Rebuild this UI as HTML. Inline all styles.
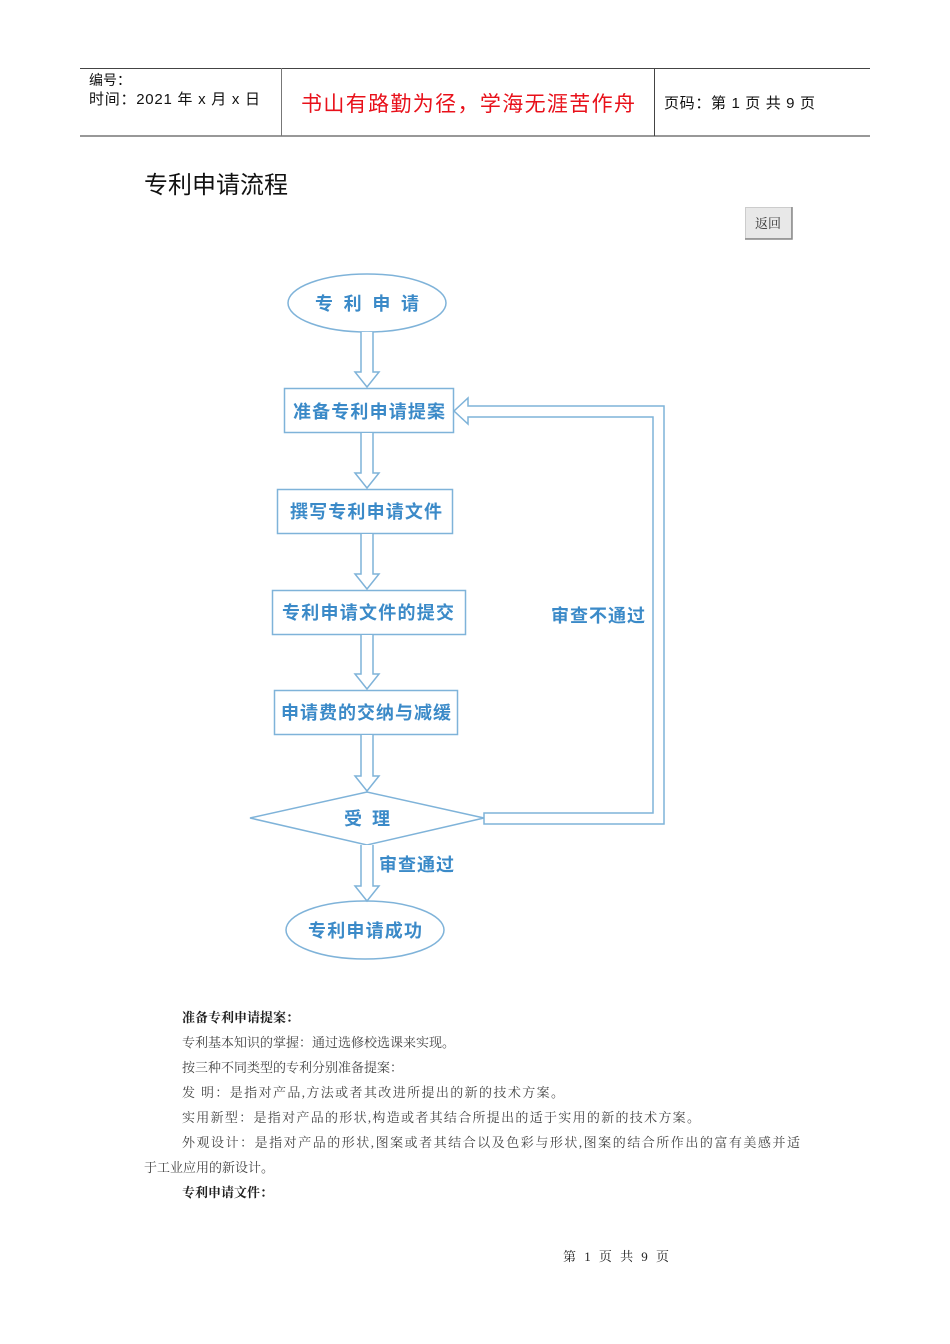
<!DOCTYPE html>
<html><head><meta charset="utf-8"><style>
html,body{margin:0;padding:0;background:#fff;}
svg{display:block;}
.s{font-family:"Liberation Serif","Noto Serif CJK SC",serif;fill:#444;font-size:13px;}
.f{font-family:"Liberation Sans","Noto Sans CJK SC",sans-serif;font-weight:bold;fill:#3b8ac8;}
</style></head><body>
<svg width="950" height="1344" viewBox="0 0 950 1344" xmlns="http://www.w3.org/2000/svg">
<line x1="80" y1="68.5" x2="870" y2="68.5" stroke="#444" stroke-width="1"/>
<line x1="80" y1="136" x2="870" y2="136" stroke="#777" stroke-width="1.5"/>
<line x1="281.5" y1="68" x2="281.5" y2="136" stroke="#777" stroke-width="1"/>
<line x1="654.5" y1="68" x2="654.5" y2="136" stroke="#444" stroke-width="1"/>
<text x="89" y="85" font-family="Liberation Sans,'Noto Sans CJK SC',sans-serif" font-size="14" fill="#111">编号：</text>
<text x="89" y="104" font-family="Liberation Sans,'Noto Sans CJK SC',sans-serif" font-size="15" fill="#111" textLength="171">时间：2021 年 x 月 x 日</text>
<text x="301" y="111" font-family="Liberation Sans,'Noto Sans CJK SC',sans-serif" font-size="21" fill="#e8101a" textLength="334">书山有路勤为径，学海无涯苦作舟</text>
<text x="664" y="108" font-family="Liberation Sans,'Noto Sans CJK SC',sans-serif" font-size="15" fill="#111" textLength="151">页码：第 1 页  共 9 页</text>
<text x="144" y="193" font-family="Liberation Sans,'Noto Sans CJK SC',sans-serif" font-size="24" fill="#111" textLength="144">专利申请流程</text>
<rect x="745.5" y="207.5" width="46" height="31" fill="#e8e8e8" stroke="#ccc"/>
<path d="M792 207V239H745" fill="none" stroke="#888" stroke-width="1.5"/>
<text x="768" y="228" text-anchor="middle" font-family="Liberation Serif,'Noto Serif CJK SC',serif" font-size="13" fill="#333">返回</text>
<g fill="#fff" stroke="#7fb3d9" stroke-width="1.5">
<ellipse cx="367" cy="303" rx="79" ry="29"/>
<rect x="284.5" y="388.5" width="169" height="44"/>
<rect x="277.5" y="489.5" width="175" height="44"/>
<rect x="272.5" y="590.5" width="193" height="44"/>
<rect x="274.5" y="690.5" width="183" height="44"/>
<polygon points="250,818 367,792 484,818 367,845"/>
<ellipse cx="365" cy="930" rx="79" ry="29"/>
<path d="M361 332V372H355L367 387L379 372H373V332"/>
<path d="M361 433V473H355L367 488L379 473H373V433"/>
<path d="M361 534V574H355L367 589L379 574H373V534"/>
<path d="M361 635V674H355L367 689L379 674H373V635"/>
<path d="M361 735V776H355L367 791L379 776H373V735"/>
<path d="M361 845V886H355L367 901L379 886H373V845"/>
<path d="M484 813H653V417H468V424L454 411L468 398V406H664V824H484Z"/>
</g>
<text x="367" y="310" text-anchor="middle" class="f" font-size="18" textLength="104">专 利 申 请</text>
<text x="369" y="418" text-anchor="middle" class="f" font-size="18" textLength="152">准备专利申请提案</text>
<text x="366" y="518" text-anchor="middle" class="f" font-size="18" textLength="152">撰写专利申请文件</text>
<text x="368" y="619" text-anchor="middle" class="f" font-size="18" textLength="172">专利申请文件的提交</text>
<text x="366" y="719" text-anchor="middle" class="f" font-size="18" textLength="170">申请费的交纳与减缓</text>
<text x="367" y="825" text-anchor="middle" class="f" font-size="18" textLength="46">受 理</text>
<text x="379" y="871" class="f" font-size="18" textLength="75">审查通过</text>
<text x="365" y="937" text-anchor="middle" class="f" font-size="18" textLength="114">专利申请成功</text>
<text x="551" y="622" class="f" font-size="18" textLength="94">审查不通过</text>
<text x="182" y="1022" class="s" font-weight="bold" fill="#222" style="fill:#222">准备专利申请提案：</text>
<text x="182" y="1047" class="s">专利基本知识的掌握：通过选修校选课来实现。</text>
<text x="182" y="1072" class="s">按三种不同类型的专利分别准备提案：</text>
<text x="182" y="1097" class="s" textLength="382">发  明：是指对产品,方法或者其改进所提出的新的技术方案。</text>
<text x="182" y="1122" class="s" textLength="518">实用新型：是指对产品的形状,构造或者其结合所提出的适于实用的新的技术方案。</text>
<text x="182" y="1147" class="s" textLength="618">外观设计：是指对产品的形状,图案或者其结合以及色彩与形状,图案的结合所作出的富有美感并适</text>
<text x="144" y="1172" class="s">于工业应用的新设计。</text>
<text x="182" y="1197" class="s" font-weight="bold" style="fill:#222">专利申请文件：</text>
<text x="563" y="1261" class="s" style="fill:#222" textLength="106">第 1 页 共 9 页</text>
</svg>
</body></html>
